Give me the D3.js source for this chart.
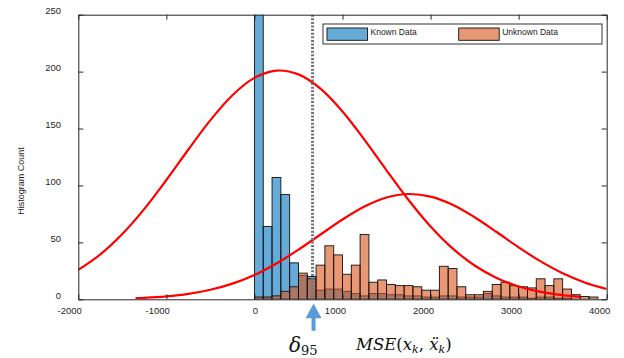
<!DOCTYPE html>
<html>
<head>
<meta charset="utf-8">
<script src="https://d3js.org/d3.v7.min.js"></script>
<style>
  body { margin: 0; background: #fff; }
  svg { display: block; }
</style>
</head>
<body>
<svg width="624" height="358"></svg>
<script>
// histogram bins start at 0, 100 wide
var binWidth = 100;
var knownCounts = [1200, 64, 107, 92, 32, 21, 20, 8, 9, 9, 7, 5, 3, 5, 5, 4, 4, 3, 3, 2,
  2, 3, 3, 2, 2, 2, 5, 3, 2, 2, 2, 1, 2, 2, 1, 1, 0, 0, 0];
var unknownCounts = [2, 2, 3, 7, 11, 23, 18, 30, 47, 39, 22, 30, 57, 15, 17, 13, 12, 12, 11, 8,
  8, 29, 27, 11, 4, 4, 7, 13, 15, 12, 11, 10, 18, 12, 18, 9, 4, 2.5, 2];

// fitted normal curves
var knownFitX = [-2000, -1750, -1500, -1250, -1000, -750, -500, -250, 0, 250, 500, 750, 1000,
  1250, 1500, 1750, 2000, 2250, 2500, 2750, 3000, 3250, 3500, 3700];
var knownFitY = [25.8, 39.4, 57.3, 79.4, 104.8, 131.6, 157.4, 179.3, 194.5, 200.9, 197.6, 185.0, 165.0,
  140.1, 113.3, 87.2, 64.0, 44.7, 29.7, 18.8, 11.3, 6.5, 3.6, 2.1];
var unknownFitX = [-1350, -1250, -1000, -750, -500, -250, 0, 250, 500, 750, 1000, 1250, 1500,
  1750, 2000, 2250, 2500, 2750, 3000, 3250, 3500, 3750, 4000];
var unknownFitY = [1.0, 1.3, 2.6, 4.8, 8.4, 13.8, 21.4, 31.5, 43.6, 56.9, 70.1, 81.5, 89.4,
  92.5, 90.2, 83.1, 72.1, 59.1, 45.6, 33.3, 22.9, 14.8, 9.1];

var delta95 = 660;
var xTicks = [-2000, -1000, 0, 1000, 2000, 3000, 4000];
var yTicks = [0, 50, 100, 150, 200, 250];
var seriesNames = ['Known Data', 'Unknown Data'];

var svg = d3.select('svg');
var plotLeft = 78.3, plotRight = 606.7, plotTop = 14.7, plotBottom = 299.3;
var blue = '#0072bd', orange = '#d95319', axisColor = '#262626';

var x = d3.scaleLinear().domain([-2000, 4000]).range([plotLeft, plotRight]);
var y = d3.scaleLinear().domain([0, 250]).range([plotBottom, plotTop]);

svg.append('clipPath').attr('id', 'plot')
  .append('rect')
  .attr('x', plotLeft).attr('y', plotTop)
  .attr('width', plotRight - plotLeft).attr('height', plotBottom - plotTop);

var plot = svg.append('g').attr('clip-path', 'url(#plot)');

function drawBars(counts, color){
  plot.append('g').selectAll('rect')
    .data(counts)
    .enter().append('rect')
    .attr('x', function(d, i){ return x(i*binWidth); })
    .attr('width', function(d, i){ return x((i+1)*binWidth) - x(i*binWidth); })
    .attr('y', function(d){ return y(d); })
    .attr('height', function(d){ return y(0) - y(d); })
    .style('fill', color)
    .style('fill-opacity', 0.6)
    .style('stroke', '#111')
    .style('stroke-width', 0.9);
}
drawBars(knownCounts, blue);
drawBars(unknownCounts, orange);

var line = d3.line()
  .x(function(d){ return x(d[0]); })
  .y(function(d){ return y(d[1]); })
  .curve(d3.curveCatmullRom);

[[knownFitX, knownFitY], [unknownFitX, unknownFitY]].forEach(function(fit){
  plot.append('path')
    .datum(d3.zip(fit[0], fit[1]))
    .attr('d', line)
    .style('fill', 'none')
    .style('stroke', '#ff0000')
    .style('stroke-width', 2.2);
});

// threshold line
plot.append('line')
  .attr('x1', x(delta95)).attr('x2', x(delta95))
  .attr('y1', plotTop).attr('y2', plotBottom)
  .style('stroke', '#737373')
  .style('stroke-width', 3)
  .style('stroke-dasharray', '2,1.6');

// axes, ticks point inward like matlab
function plain(d){ return String(d); }
function styleAxis(g){
  g.select('.domain').style('stroke', axisColor);
  g.selectAll('.tick line').style('stroke', axisColor);
  g.selectAll('text')
    .style('font-family', '"Liberation Sans", Arial, sans-serif')
    .style('font-size', '9.5px')
    .style('fill', axisColor);
}

svg.append('g')
  .attr('transform', 'translate(0,' + plotBottom + ')')
  .call(d3.axisBottom(x).tickValues(xTicks).tickFormat(plain).tickSizeInner(-5).tickSizeOuter(0).tickPadding(7.5))
  .call(styleAxis)
  .selectAll('text').attr('text-anchor', 'end').attr('dx', '3px');

svg.append('g')
  .attr('transform', 'translate(0,' + plotTop + ')')
  .call(d3.axisTop(x).tickValues(xTicks).tickFormat('').tickSizeInner(-5).tickSizeOuter(0))
  .call(styleAxis);

svg.append('g')
  .attr('transform', 'translate(' + plotLeft + ',0)')
  .call(d3.axisLeft(y).tickValues(yTicks).tickFormat(plain).tickSizeInner(-5).tickSizeOuter(0).tickPadding(17.3))
  .call(styleAxis)
  .selectAll('text').attr('dy', '-0.1em');

svg.append('g')
  .attr('transform', 'translate(' + plotRight + ',0)')
  .call(d3.axisRight(y).tickValues(yTicks).tickFormat('').tickSizeInner(-5).tickSizeOuter(0))
  .call(styleAxis);

svg.append('text')
  .attr('transform', 'translate(24,181) rotate(-90)')
  .attr('text-anchor', 'middle')
  .style('font-family', '"Liberation Sans", Arial, sans-serif')
  .style('font-size', '9px')
  .style('fill', axisColor)
  .text('Histogram Count');

// legend
var legend = svg.append('g');
legend.append('rect')
  .attr('x', 323).attr('y', 24).attr('width', 279).attr('height', 20)
  .style('fill', '#fff').style('stroke', '#333').style('stroke-width', 1);
var legendX = [327, 458.7];
seriesNames.forEach(function(name, i){
  legend.append('rect')
    .attr('x', legendX[i]).attr('y', 28)
    .attr('width', 40.5).attr('height', 12.3)
    .style('fill', i ? orange : blue).style('fill-opacity', 0.6)
    .style('stroke', '#111').style('stroke-width', 0.9);
  legend.append('text')
    .attr('x', legendX[i] + 43.5).attr('y', 34.5)
    .style('font-family', '"Liberation Sans", Arial, sans-serif')
    .style('font-size', '8.5px')
    .style('fill', '#1a1a1a')
    .text(name);
});

// arrow + math labels under the axis
var ax = x(delta95) + 1;
svg.append('path')
  .attr('d', 'M' + ax + ',303.5 L' + (ax + 8) + ',318.3 L' + (ax + 2) + ',318.3 L' + (ax + 2) + ',330.7 L' +
    (ax - 2) + ',330.7 L' + (ax - 2) + ',318.3 L' + (ax - 8) + ',318.3 Z')
  .style('fill', '#5b9bd5');

var serif = '"DejaVu Serif", "Liberation Serif", serif';
var d95 = svg.append('text').attr('x', 289).attr('y', 352)
  .style('font-family', serif).style('fill', '#111');
d95.append('tspan').style('font-style', 'italic').style('font-size', '20px').text('δ');
d95.append('tspan').style('font-size', '13px').attr('dy', 3).text('95');

var mse = svg.append('text').attr('x', 356).attr('y', 350)
  .style('font-family', serif).style('font-size', '16.5px').style('fill', '#111');
mse.append('tspan').style('font-style', 'italic').text('MSE');
mse.append('tspan').text('(');
mse.append('tspan').style('font-style', 'italic').text('x');
mse.append('tspan').style('font-style', 'italic').style('font-size', '11px').attr('dy', 3).text('k');
mse.append('tspan').attr('dy', -3).text(', ');
mse.append('tspan').style('font-style', 'italic').text('ẍ');
mse.append('tspan').style('font-style', 'italic').style('font-size', '11px').attr('dy', 3).text('k');
mse.append('tspan').attr('dy', -3).text(')');
</script>
</body>
</html>
